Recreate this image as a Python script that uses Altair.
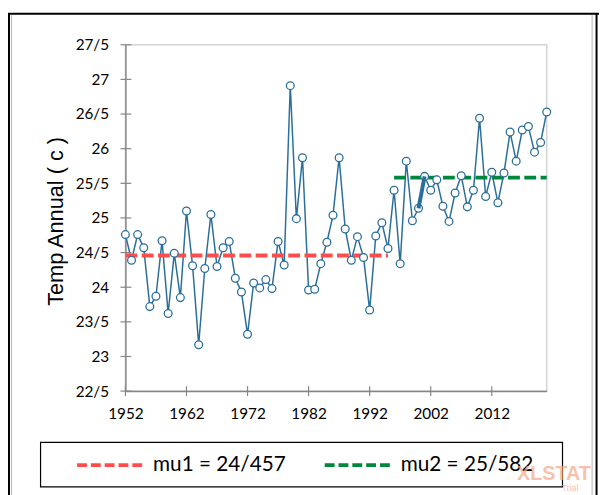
import altair as alt
import pandas as pd

years = list(range(1952, 2022))
temps = [
    24.76, 24.39, 24.76, 24.57, 23.72, 23.87, 24.67, 23.62, 24.49, 23.85,
    25.10, 24.31, 23.17, 24.27, 25.05, 24.30, 24.57, 24.66, 24.13, 23.93,
    23.32, 24.06, 23.99, 24.11, 23.98, 24.66, 24.32, 26.91, 24.99, 25.87,
    23.96, 23.97, 24.34, 24.65, 25.04, 25.87, 24.84, 24.39, 24.73, 24.43,
    23.67, 24.74, 24.93, 24.56, 25.40, 24.34, 25.82, 24.96, 25.14, 25.60,
    25.40, 25.55, 25.17, 24.95, 25.36, 25.61, 25.16, 25.40, 26.44, 25.31,
    25.66, 25.22, 25.65, 26.24, 25.82, 26.27, 26.32, 25.95, 26.09, 26.53,
]
mu_names = ["mu1", "mu2"]
mu_values = [24.457, 25.582]
mu_start = [1952, 1996]
mu_end = [1995, 2021]
legend_labels = ["mu1 = 24/457", "mu2 = 25/582"]
bold_years = [2000, 2001]
y_ticks = [22.5, 23, 23.5, 24, 24.5, 25, 25.5, 26, 26.5, 27, 27.5]
x_ticks = [1952, 1962, 1972, 1982, 1992, 2002, 2012]

blue = "#2a6e9a"
red = "#ff4d4d"
green = "#00873c"
axis_gray = "#868686"
W, H = 427, 351

series = pd.DataFrame({"year": years, "temp": temps})
bold = series[series["year"].isin(bold_years)]
means = pd.DataFrame({"group": mu_names, "mu": mu_values, "start": mu_start, "end": mu_end})
one = pd.DataFrame({"a": [0]})

x_scale = alt.Scale(domain=[1952, 2021], nice=False, zero=False)
y_scale = alt.Scale(domain=[22.5, 27.5], nice=False, zero=False)
mu_color = alt.Scale(domain=mu_names, range=[red, green])

# same axis objects on every layer so the merge keeps them
x_axis = alt.Axis(values=x_ticks, format="d", labelPadding=16, title=None,
                  labelFlush=False, labelOverlap=False)
y_axis = alt.Axis(values=y_ticks, format=".1~f", labelPadding=17, title=None,
                  labelFlush=False, labelOverlap=False,
                  labelExpr="replace(datum.label, '.', '/')")


def X(field):
    return alt.X(field, scale=x_scale, axis=x_axis)


def Y(field):
    return alt.Y(field, scale=y_scale, axis=y_axis)


def frame_line(x1, x2, y1, y2, color, width):
    return alt.Chart(one).mark_rule(color=color, strokeWidth=width).encode(
        x=alt.value(x1), x2=alt.value(x2), y=alt.value(y1), y2=alt.value(y2)
    )


frame = (
    frame_line(-119, 480, -31.5, -31.5, "black", 2)
    + frame_line(-118, -118, -31.5, 460, "black", 2)
    + frame_line(-115.5, -115.5, -30, 460, "#b0b0b0", 1)
    + frame_line(473, 473, -30, 460, "#b0b0b0", 1)
    + frame_line(477.5, 477.5, -31.5, 460, "black", 2)
)

line = alt.Chart(series).mark_line(color=blue, strokeWidth=1.5).encode(
    x=X("year:Q"), y=Y("temp:Q")
)

points = alt.Chart(series).mark_point(
    shape="circle", filled=True, fill="white", stroke=blue, strokeWidth=1.3, size=62, opacity=1
).encode(x=X("year:Q"), y=Y("temp:Q"))

bold_seg = alt.Chart(bold).mark_line(color=blue, strokeWidth=4).encode(
    x=X("year:Q"), y=Y("temp:Q")
)

mean_lines = alt.Chart(means).mark_rule(strokeWidth=4, strokeDash=[12, 4.5]).encode(
    x=X("start:Q"),
    x2="end:Q",
    y=Y("mu:Q"),
    color=alt.Color("group:N", scale=mu_color, legend=None),
)

y_tick_marks = alt.Chart(pd.DataFrame({"v": y_ticks})).mark_rule(
    color=axis_gray, strokeWidth=1.2
).encode(y=Y("v:Q"), x=alt.value(-5), x2=alt.value(6))

x_tick_marks = alt.Chart(pd.DataFrame({"v": x_ticks})).mark_rule(
    color=axis_gray, strokeWidth=1.2
).encode(x=X("v:Q"), y=alt.value(H - 5), y2=alt.value(H + 5))

y_title = alt.Chart(one).mark_text(
    text="Temp Annual ( c )", angle=270, font="Liberation Sans", fontSize=22,
    color="black", align="center", baseline="middle"
).encode(x=alt.value(-70), y=alt.value(179))

legend_box = alt.Chart(one).mark_rect(fill="white", stroke="black", strokeWidth=1.2).encode(
    x=alt.value(-86), x2=alt.value(443), y=alt.value(403), y2=alt.value(448)
)

legend_df = pd.DataFrame({
    "group": mu_names,
    "label": legend_labels,
    "lx": [-49, 202],
    "tx": [28, 279],
})

legend_lines = alt.Chart(legend_df).mark_rule(strokeWidth=4, strokeDash=[10, 4]).encode(
    x=alt.X("lx:Q", scale=None, axis=None),
    x2=alt.X2("lx_end:Q"),
    y=alt.value(426),
    color=alt.Color("group:N", scale=mu_color, legend=None),
).transform_calculate(lx_end="datum.lx + 70")

legend_text = alt.Chart(legend_df).mark_text(
    font="Lato", fontSize=21, color="black", align="left", baseline="middle"
).encode(
    x=alt.X("tx:Q", scale=None, axis=None),
    y=alt.value(426),
    text="label:N",
)

watermark = (
    alt.Chart(one).mark_text(
        text="XLSTAT", font="Liberation Sans", fontWeight="bold", fontSize=20,
        color="#f5a888", opacity=0.7, align="left", baseline="top"
    ).encode(x=alt.value(397), y=alt.value(425))
    + alt.Chart(one).mark_text(
        text="Trial", font="Liberation Sans", fontSize=9,
        color="#f5a888", opacity=0.7, align="left", baseline="top"
    ).encode(x=alt.value(442), y=alt.value(445))
)

chart = alt.layer(
    frame, line, mean_lines, points, bold_seg, y_tick_marks, x_tick_marks,
    y_title, legend_box, legend_lines, legend_text, watermark
).properties(
    width=W,
    height=H,
    padding={"left": 119, "top": 34, "right": 54, "bottom": 102},
    autosize=alt.AutoSizeParams(type="none"),
    background="white",
).configure_view(
    stroke="#d4d4d4", strokeWidth=1.5
).configure_axis(
    grid=False, ticks=False, domainColor=axis_gray, domainWidth=1.5,
    labelFont="Lato", labelFontSize=15.5, labelColor="black"
)

chart.save("out.html", embed_options={"renderer": "svg", "actions": False})
